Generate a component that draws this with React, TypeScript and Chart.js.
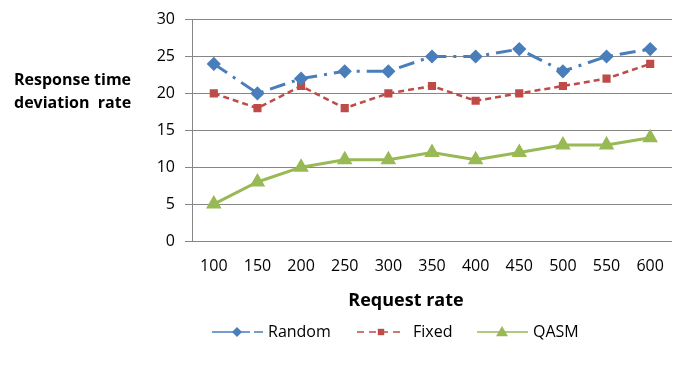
import React, { useEffect, useRef } from "react";
import { Chart, registerables } from "chart.js";

Chart.register(...registerables);

const categories = ["100", "150", "200", "250", "300", "350", "400", "450", "500", "550", "600"];
const randomValues = [24, 20, 22, 23, 23, 25, 25, 26, 23, 25, 26];
const fixedValues = [20, 18, 21, 18, 20, 21, 19, 20, 21, 22, 24];
const qasmValues = [5, 8, 10, 11, 11, 12, 11, 12, 13, 13, 14];
const seriesNames = ["Random", "Fixed", "QASM"];
const yTitleLines = ["Response time", "deviation  rate"];
const xTitle = "Request rate";

const FONT = "'Open Sans', Lato, sans-serif";
const BLUE = "#4A7EBB";
const RED = "#BE4B48";
const GREEN = "#98B954";

function drawMarker(ctx: CanvasRenderingContext2D, style: string, x: number, y: number, r: number, color: string) {
  ctx.save();
  ctx.setLineDash([]);
  ctx.fillStyle = color;
  ctx.beginPath();
  if (style === "rectRot") {
    ctx.moveTo(x, y - r);
    ctx.lineTo(x + r, y);
    ctx.lineTo(x, y + r);
    ctx.lineTo(x - r, y);
  } else if (style === "rect") {
    ctx.rect(x - r * 0.8, y - r * 0.8, r * 1.6, r * 1.6);
  } else {
    ctx.moveTo(x, y - r);
    ctx.lineTo(x + r, y + r * 0.7);
    ctx.lineTo(x - r, y + r * 0.7);
  }
  ctx.closePath();
  ctx.fill();
  ctx.restore();
}

const textPlugin = {
  id: "customText",
  afterDraw(chart: any) {
    const ctx = chart.ctx as CanvasRenderingContext2D;
    ctx.save();
    ctx.fillStyle = "#000";
    ctx.textBaseline = "middle";
    ctx.textAlign = "left";
    ctx.font = `bold 16px ${FONT}`;
    ctx.fillText(yTitleLines[0], 14, 80);
    ctx.fillText(yTitleLines[1], 14, 103);
    ctx.textAlign = "center";
    ctx.font = `bold 18px ${FONT}`;
    ctx.fillText(xTitle, 406, 301);

    // legend
    const items = [
      { x0: 212, x1: 263, mx: 237, tx: 268, ds: chart.data.datasets[0], r: 5 },
      { x0: 357, x1: 404, mx: 381, tx: 413, ds: chart.data.datasets[1], r: 4 },
      { x0: 477, x1: 528, mx: 502, tx: 533, ds: chart.data.datasets[2], r: 6 },
    ];
    const ly = 332;
    items.forEach((it) => {
      ctx.save();
      ctx.strokeStyle = it.ds.borderColor;
      ctx.lineWidth = 1.5;
      ctx.setLineDash(it.ds.legendDash || []);
      ctx.beginPath();
      ctx.moveTo(it.x0, ly);
      ctx.lineTo(it.x1, ly);
      ctx.stroke();
      ctx.restore();
      drawMarker(ctx, it.ds.pointStyle, it.mx, ly, it.r, it.ds.pointBackgroundColor);
      ctx.fillStyle = "#000";
      ctx.textAlign = "left";
      ctx.font = `16px ${FONT}`;
      ctx.fillText(it.ds.label, it.tx, ly);
    });
    ctx.restore();
  },
};

export default function App() {
  const ref = useRef<HTMLCanvasElement>(null);
  useEffect(() => {
    if (!ref.current) return;
    const chart = new Chart(ref.current, {
      type: "line",
      data: {
        labels: categories,
        datasets: [
          {
            label: seriesNames[0],
            data: randomValues,
            borderColor: BLUE,
            backgroundColor: BLUE,
            pointBackgroundColor: BLUE,
            pointBorderColor: BLUE,
            borderWidth: 3,
            borderDash: [16, 7, 3, 7],
            legendDash: [38, 4, 10, 40],
            pointStyle: "rectRot",
            pointRadius: 5,
            tension: 0,
          } as any,
          {
            label: seriesNames[1],
            data: fixedValues,
            borderColor: RED,
            backgroundColor: RED,
            pointBackgroundColor: RED,
            pointBorderColor: RED,
            borderWidth: 2.5,
            borderDash: [6, 4],
            legendDash: [7, 5],
            pointStyle: "rect",
            pointRadius: 4,
            tension: 0,
          } as any,
          {
            label: seriesNames[2],
            data: qasmValues,
            borderColor: GREEN,
            backgroundColor: GREEN,
            pointBackgroundColor: GREEN,
            pointBorderColor: GREEN,
            borderWidth: 3,
            pointStyle: "triangle",
            pointRadius: 6,
            tension: 0,
          } as any,
        ],
      },
      options: {
        animation: false,
        responsive: true,
        maintainAspectRatio: false,
        layout: { padding: { left: 0, right: 6, top: 11, bottom: 0 } },
        plugins: { legend: { display: false }, title: { display: false }, tooltip: { enabled: false } },
        scales: {
          x: {
            offset: true,
            grid: { display: false, drawTicks: false, offset: true },
            border: { display: false },
            ticks: { color: "#000", font: { family: FONT, size: 16 }, padding: 16, maxRotation: 0 },
            afterFit: (s: any) => {
              s.height = 141;
            },
          },
          y: {
            min: 0,
            max: 30,
            ticks: { stepSize: 5, color: "#000", font: { family: FONT, size: 16 }, padding: 10 },
            grid: { color: "#868686", lineWidth: 1, tickLength: 7, drawTicks: true },
            border: { display: true, color: "#868686", width: 1 },
            afterFit: (s: any) => {
              s.width = 192;
            },
          },
        },
      },
      plugins: [textPlugin],
    });
    return () => chart.destroy();
  }, []);
  return (
    <div style={{ position: "fixed", left: 0, top: 0, width: 681, height: 382, background: "#fff" }}>
      <canvas ref={ref} />
    </div>
  );
}
